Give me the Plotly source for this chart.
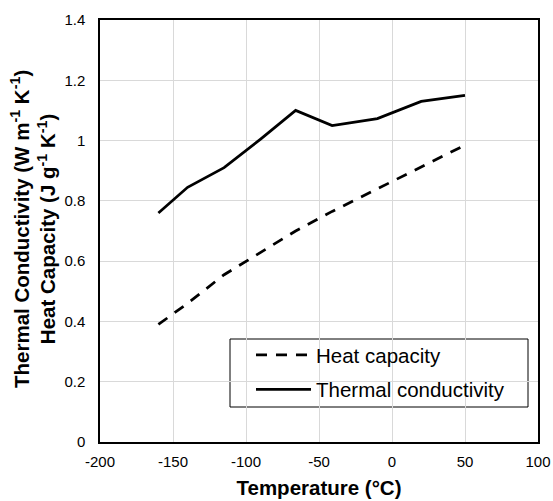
import plotly.graph_objects as go

# Data
temperature_c = [-160, -140, -115, -90, -66, -41, -10, 20, 50]
heat_capacity = [0.39, 0.46, 0.555, 0.63, 0.70, 0.765, 0.84, 0.91, 0.985]
thermal_conductivity = [0.76, 0.845, 0.91, 1.005, 1.10, 1.05, 1.073, 1.13, 1.15]

x_ticks = [-200, -150, -100, -50, 0, 50, 100]
y_ticks = [0, 0.2, 0.4, 0.6, 0.8, 1, 1.2, 1.4]

FONT = "Liberation Sans, Arial, sans-serif"

fig = go.Figure()
fig.add_trace(go.Scatter(
    x=temperature_c, y=heat_capacity, mode="lines", name="Heat capacity",
    legendgroup="hc",
    line=dict(color="black", width=2.75, dash="11px,9px"),
))
fig.add_trace(go.Scatter(
    x=temperature_c, y=thermal_conductivity, mode="lines", name="Thermal conductivity",
    legendgroup="tc",
    line=dict(color="black", width=2.75),
))

fig.update_layout(
    width=553, height=501, autosize=False,
    margin=dict(l=100, r=15, t=20, b=59, autoexpand=False),
    paper_bgcolor="white", plot_bgcolor="white",
    font=dict(family=FONT, color="black", size=15),
    showlegend=True,
    legend=dict(
        x=(251 - 100) / 438, y=0.2536, xanchor="left", yanchor="top",
        bgcolor="rgba(0,0,0,0)", borderwidth=0,
        font=dict(family=FONT, size=20.5, color="black"),
        traceorder="grouped", tracegroupgap=5, itemwidth=55,
    ),
    shapes=[dict(
        type="rect", xref="paper", yref="paper",
        x0=(230 - 100) / 438, x1=(528 - 100) / 438,
        y0=(442 - 407) / 422, y1=(442 - 339) / 422,
        line=dict(color="black", width=1), fillcolor="white", layer="below",
    )],
    annotations=[dict(
        text="<b>Thermal Conductivity (W m<sup>-1</sup> K<sup>-1</sup>)<br>Heat Capacity (J g<sup>-1</sup> K<sup>-1</sup>)</b>",
        xref="paper", yref="paper", x=(33 - 100) / 438, y=(442 - 229) / 422,
        xanchor="center", yanchor="middle", textangle=-90, showarrow=False,
        font=dict(family=FONT, size=20.5, color="black"),
    )],
)

fig.update_xaxes(
    range=[-200, 100], tickvals=x_ticks, ticktext=[str(v) for v in x_ticks],
    showgrid=True, gridcolor="#d9d9d9", gridwidth=1,
    showline=True, linecolor="black", linewidth=1.5, mirror=True,
    ticks="", zeroline=False, ticklabelstandoff=5, automargin=False,
    tickfont=dict(size=15, color="black"),
    title=dict(text="<b>Temperature (°C)</b>", font=dict(size=20.5, color="black"), standoff=12),
)
fig.update_yaxes(
    range=[0, 1.4], tickvals=y_ticks, ticktext=[f"{v:g}" for v in y_ticks],
    showgrid=True, gridcolor="#d9d9d9", gridwidth=1,
    showline=True, linecolor="black", linewidth=1.5, mirror=True,
    ticks="", zeroline=False, ticklabelstandoff=10, automargin=False,
    tickfont=dict(size=15, color="black"),
)

fig.write_html(
    "out.html",
    config={"displayModeBar": False},
    post_script="document.body.style.margin='0px';",
)
